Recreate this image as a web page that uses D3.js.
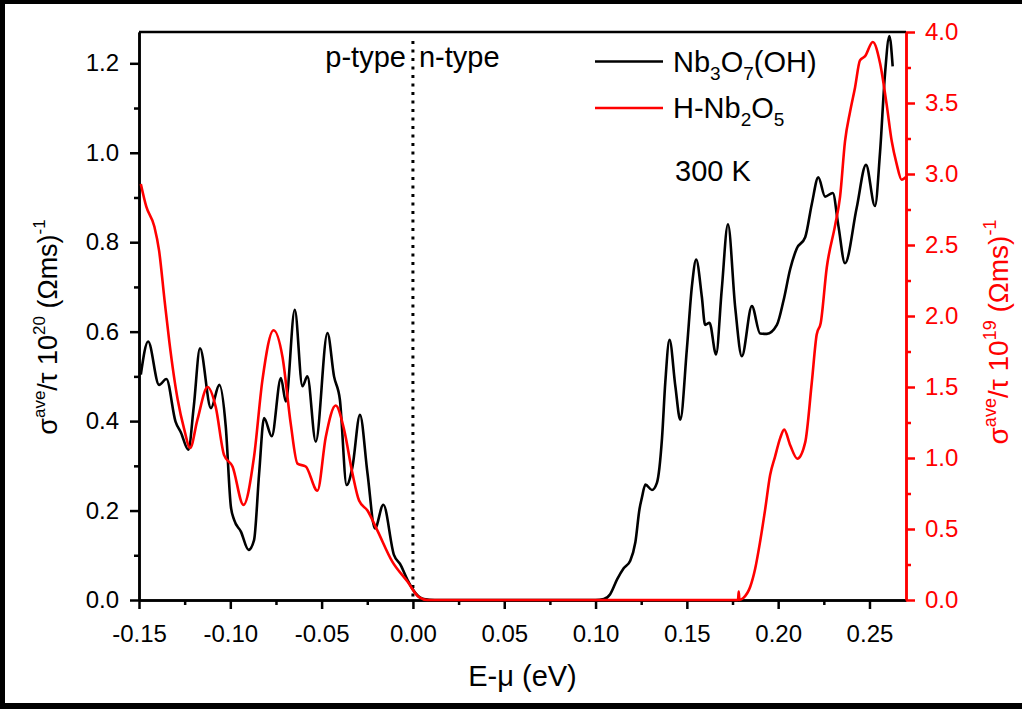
<!DOCTYPE html>
<html>
<head>
<meta charset="utf-8">
<script src="https://cdn.jsdelivr.net/npm/d3@7"></script>
<style>
  body { margin: 0; background: #fff; }
  text { font-family: "Liberation Sans", Arial, sans-serif; }
</style>
</head>
<body>
<div id="chart"></div>
<script>
// energy (eV) and sigma/tau values
// Nb3O7(OH) -> left axis (10^20), H-Nb2O5 -> right axis (10^19)
const energyNb3O7 = [-0.149, -0.145, -0.139, -0.135, -0.130, -0.127, -0.123, -0.120, -0.1166, -0.1106,
  -0.106, -0.1025, -0.0997, -0.0979, -0.0942, -0.090, -0.087, -0.0842, -0.0815, -0.0773,
  -0.0723, -0.0696, -0.0647, -0.0605, -0.0578, -0.0532, -0.0468, -0.0432, -0.040, -0.0363,
  -0.0331, -0.029, -0.0249, -0.0208, -0.0162, -0.0104, -0.0067, -0.003, 0.0015, 0.006,
  0.012, 0.100, 0.1045, 0.108, 0.1118, 0.1154, 0.119, 0.1218, 0.1241, 0.1254,
  0.1273, 0.1309, 0.1336, 0.1364, 0.1382, 0.1405, 0.1437, 0.1464, 0.150, 0.1528,
  0.1551, 0.1582, 0.160, 0.1624, 0.166, 0.1691, 0.1725, 0.1765, 0.1801, 0.1856,
  0.1901, 0.1938, 0.1993, 0.2029, 0.2066, 0.2102, 0.2148, 0.2184, 0.222, 0.2257,
  0.2299, 0.233, 0.2366, 0.243, 0.2481, 0.253, 0.2558, 0.2585, 0.2609, 0.2627];
const sigmaNb3O7 = [0.504, 0.578, 0.481, 0.494, 0.399, 0.374, 0.336, 0.433, 0.563, 0.429,
  0.481, 0.388, 0.209, 0.179, 0.153, 0.112, 0.134, 0.284, 0.407, 0.366,
  0.496, 0.444, 0.649, 0.478, 0.500, 0.354, 0.597, 0.500, 0.448, 0.257,
  0.298, 0.414, 0.284, 0.160, 0.213, 0.101, 0.078, 0.045, 0.015, 0.002,
  0, 0, 0.002, 0.013, 0.046, 0.071, 0.088, 0.129, 0.204, 0.229,
  0.258, 0.246, 0.262, 0.362, 0.487, 0.582, 0.478, 0.403, 0.561, 0.703,
  0.761, 0.678, 0.615, 0.620, 0.549, 0.694, 0.840, 0.653, 0.545, 0.657,
  0.596, 0.595, 0.615, 0.669, 0.740, 0.786, 0.811, 0.885, 0.945, 0.902,
  0.910, 0.836, 0.753, 0.877, 0.973, 0.881, 1.002, 1.176, 1.261, 1.193];

const energyHNb2O5 = [-0.149, -0.146, -0.1416, -0.139, -0.136, -0.1334, -0.1288, -0.1252, -0.122, -0.118,
  -0.1124, -0.108, -0.1034, -0.0988, -0.0928, -0.087, -0.0824, -0.0763, -0.0714, -0.0669,
  -0.0632, -0.0587, -0.0523, -0.0477, -0.0423, -0.0377, -0.0331, -0.0295, -0.0249, -0.0195,
  -0.0113, -0.003, 0.0033, 0.008, 0.178, 0.1784, 0.1788, 0.181, 0.1847, 0.1874,
  0.1901, 0.1929, 0.1956, 0.1983, 0.2011, 0.2033, 0.2066, 0.2105, 0.2148, 0.2184,
  0.2211, 0.2233, 0.2266, 0.2312, 0.2339, 0.2366, 0.2394, 0.2421, 0.2448, 0.2476,
  0.2518, 0.2558, 0.2594, 0.2622, 0.2649, 0.2676, 0.270];
const sigmaHNb2O5 = [2.93, 2.77, 2.63, 2.46, 2.11, 1.82, 1.41, 1.20, 1.07, 1.27,
  1.50, 1.36, 1.02, 0.94, 0.67, 1.01, 1.55, 1.90, 1.71, 1.24,
  0.96, 0.94, 0.77, 1.15, 1.37, 1.20, 0.89, 0.70, 0.63, 0.49,
  0.27, 0.13, 0.02, 0, 0, 0.06, 0, 0.015, 0.093, 0.22,
  0.41, 0.64, 0.88, 1.01, 1.14, 1.20, 1.09, 0.995, 1.11, 1.53,
  1.87, 1.95, 2.34, 2.64, 2.84, 3.23, 3.44, 3.61, 3.80, 3.83,
  3.93, 3.78, 3.49, 3.23, 3.07, 2.96, 2.98];

// tick values
const xTicks = [-0.15, -0.10, -0.05, 0.00, 0.05, 0.10, 0.15, 0.20, 0.25];
const xMinorTicks = [-0.125, -0.075, -0.025, 0.025, 0.075, 0.125, 0.175, 0.225];
const yLeftTicks = [0.0, 0.2, 0.4, 0.6, 0.8, 1.0, 1.2];
const yLeftMinorTicks = [0.1, 0.3, 0.5, 0.7, 0.9, 1.1];
const yRightTicks = [0.0, 0.5, 1.0, 1.5, 2.0, 2.5, 3.0, 3.5, 4.0];
const yRightMinorTicks = [0.25, 0.75, 1.25, 1.75, 2.25, 2.75, 3.25, 3.75];

// p-type / n-type boundary and top of the dotted line
const boundaryEnergy = 0;
const boundaryTop = 1.25;

// set the dimensions of the graph
const W = 1022, H = 709;
const margin = { top: 32, right: 116, bottom: 109, left: 139 };
const width = W - margin.left - margin.right,
      height = H - margin.top - margin.bottom;

const x = d3.scaleLinear().domain([-0.15, 0.27]).range([0, width]);
const yLeft = d3.scaleLinear().domain([0, 1.27]).range([height, 0]);
const yRight = d3.scaleLinear().domain([0, 4.0]).range([height, 0]);

const svgRoot = d3.select("#chart").append("svg")
    .attr("width", W)
    .attr("height", H);

// outer frame of the figure (top, left and bottom bars)
svgRoot.append("rect").attr("x", 0).attr("y", 0).attr("width", W).attr("height", 4).attr("fill", "#000");
svgRoot.append("rect").attr("x", 0).attr("y", 0).attr("width", 5).attr("height", H).attr("fill", "#000");
svgRoot.append("rect").attr("x", 0).attr("y", 703).attr("width", W).attr("height", 6).attr("fill", "#000");

const svg = svgRoot.append("g")
    .attr("transform", "translate(" + margin.left + "," + margin.top + ")");

// style helper for axes
function styleAxis(g, color, fontSize) {
    g.selectAll("path, line").attr("stroke", color).attr("stroke-width", 2.5);
    g.selectAll("text")
        .attr("fill", color)
        .style("font-size", fontSize + "px")
        .style("font-family", "'Liberation Sans', Arial, sans-serif");
}

// minor ticks first so the domain lines sit on top
svg.append("g")
    .attr("transform", "translate(0," + height + ")")
    .call(d3.axisBottom(x).tickValues(xMinorTicks).tickSize(5).tickSizeOuter(0).tickFormat(""))
    .call(g => styleAxis(g, "#000", 23));
svg.append("g")
    .call(d3.axisLeft(yLeft).tickValues(yLeftMinorTicks).tickSize(5).tickSizeOuter(0).tickFormat(""))
    .call(g => styleAxis(g, "#000", 23));
svg.append("g")
    .attr("transform", "translate(" + width + ",0)")
    .call(d3.axisRight(yRight).tickValues(yRightMinorTicks).tickSize(5).tickSizeOuter(0).tickFormat(""))
    .call(g => styleAxis(g, "#ff0000", 23));

// Add the X Axis
svg.append("g")
    .attr("transform", "translate(0," + height + ")")
    .call(d3.axisBottom(x).tickValues(xTicks).tickSize(9).tickSizeOuter(0).tickPadding(16)
        .tickFormat(d => d.toFixed(2)))
    .call(g => styleAxis(g, "#000", 24));

// Add the left Y Axis
svg.append("g")
    .call(d3.axisLeft(yLeft).tickValues(yLeftTicks).tickSize(9).tickSizeOuter(0).tickPadding(11)
        .tickFormat(d => d.toFixed(1)))
    .call(g => styleAxis(g, "#000", 24));

// top border
svg.append("line")
    .attr("x1", 0).attr("x2", width)
    .attr("y1", 0).attr("y2", 0)
    .attr("stroke", "#000").attr("stroke-width", 2.5);

// Add the right Y Axis (red)
svg.append("g")
    .attr("transform", "translate(" + width + ",0)")
    .call(d3.axisRight(yRight).tickValues(yRightTicks).tickSize(9).tickSizeOuter(0).tickPadding(10)
        .tickFormat(d => d.toFixed(1)))
    .call(g => styleAxis(g, "#ff0000", 24));

// dotted line between p-type and n-type
svg.append("line")
    .attr("x1", x(boundaryEnergy)).attr("x2", x(boundaryEnergy))
    .attr("y1", yLeft(boundaryTop)).attr("y2", yLeft(0))
    .attr("stroke", "#000")
    .attr("stroke-width", 3)
    .attr("stroke-dasharray", "3,5.5");

// draws a curve
function drawLine(energy, sigma, yScale, color) {
    const pts = energy.map((e, i) => [e, sigma[i]]);
    const line = d3.line()
        .x(d => x(d[0]))
        .y(d => yScale(d[1]))
        .curve(d3.curveMonotoneX);
    return svg.append("path")
        .datum(pts)
        .attr("fill", "none")
        .attr("stroke", color)
        .attr("stroke-width", 2.6)
        .attr("stroke-linejoin", "round")
        .attr("d", line);
}

drawLine(energyNb3O7, sigmaNb3O7, yLeft, "#000");
drawLine(energyHNb2O5, sigmaHNb2O5, yRight, "#ff0000");

// p-type / n-type labels
svg.append("text")
    .attr("x", x(boundaryEnergy) - 7).attr("y", 35)
    .attr("text-anchor", "end")
    .style("font-size", "29px")
    .text("p-type");
svg.append("text")
    .attr("x", x(boundaryEnergy) + 6).attr("y", 35)
    .style("font-size", "29px")
    .text("n-type");

// legend
const legendX = 595 - margin.left;
const legendRows = [
    { y: 61.5 - margin.top, color: "#000", parts: [["Nb", 0], ["3", 1], ["O", 0], ["7", 1], ["(OH)", 0]] },
    { y: 108 - margin.top, color: "#ff0000", parts: [["H-Nb", 0], ["2", 1], ["O", 0], ["5", 1]] }
];
legendRows.forEach(row => {
    svg.append("line")
        .attr("x1", legendX).attr("x2", legendX + 68)
        .attr("y1", row.y).attr("y2", row.y)
        .attr("stroke", row.color).attr("stroke-width", 2.6);
    const t = svg.append("text")
        .attr("x", legendX + 78).attr("y", row.y + 10)
        .style("font-size", "29px");
    let shifted = false;
    row.parts.forEach(p => {
        const span = t.append("tspan").text(p[0]);
        if (p[1] && !shifted) { span.attr("dy", 8).style("font-size", "19px"); shifted = true; }
        else if (!p[1] && shifted) { span.attr("dy", -8); shifted = false; }
    });
});

svg.append("text")
    .attr("x", 675 - margin.left).attr("y", 181 - margin.top)
    .style("font-size", "29px")
    .text("300 K");

// x axis label
svg.append("text")
    .attr("x", width / 2).attr("y", 686 - margin.top)
    .attr("text-anchor", "middle")
    .style("font-size", "29px")
    .text("E-\u03bc (eV)");

// y axis labels with superscripts
function axisTitle(tx, ty, exponent, color, size) {
    const sup = Math.round(size * 0.64);
    const t = svgRoot.append("text")
        .attr("transform", "translate(" + tx + "," + ty + ") rotate(-90)")
        .attr("text-anchor", "middle")
        .attr("fill", color)
        .style("font-size", size + "px");
    t.append("tspan").text("\u03c3");
    t.append("tspan").text("ave").style("font-size", sup + "px").attr("dy", -12);
    t.append("tspan").text("/\u03c4 10").attr("dy", 12);
    t.append("tspan").text(exponent).style("font-size", sup + "px").attr("dy", -12);
    t.append("tspan").text(" (\u03a9ms)").attr("dy", 12);
    t.append("tspan").text("-1").style("font-size", sup + "px").attr("dy", -12);
}
axisTitle(57, 327, "20", "#000", 27);
axisTitle(1008, 332, "19", "#ff0000", 28);
</script>
</body>
</html>
